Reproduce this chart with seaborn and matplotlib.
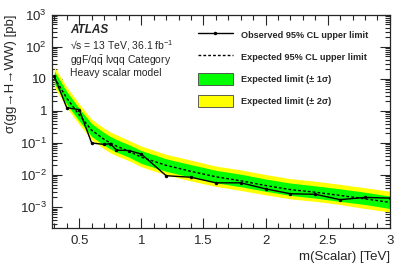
import pandas as pd
import seaborn as sns
import matplotlib.pyplot as plt
from matplotlib.patches import Patch
from matplotlib.lines import Line2D
from matplotlib.ticker import LogLocator, MultipleLocator, NullFormatter, FixedLocator

# Data
mass = [0.3, 0.4, 0.5, 0.6, 0.7, 0.75, 0.8, 0.9, 1.0, 1.2, 1.4, 1.6, 1.8, 2.0, 2.2, 2.4, 2.6, 2.8, 3.0]
observed = [12, 1.25, 1.1, 0.1, 0.09, 0.095, 0.06, 0.058, 0.045, 0.0095, 0.0085, 0.0057, 0.0057,
            0.0037, 0.0026, 0.0025, 0.0017, 0.002, 0.0019]
expected = [11, 2.5, 0.75, 0.25, 0.13, 0.10, 0.08, 0.055, 0.036, 0.02, 0.013, 0.0088, 0.0066,
            0.0047, 0.0035, 0.0029, 0.0023, 0.0018, 0.0014]
exp_p1 = [17.6, 4.0, 1.2, 0.4, 0.21, 0.16, 0.128, 0.088, 0.058, 0.032, 0.021, 0.014, 0.0106,
          0.0075, 0.0056, 0.0046, 0.0037, 0.0029, 0.0022]
exp_m1 = [7.2, 1.6, 0.49, 0.16, 0.085, 0.065, 0.052, 0.036, 0.023, 0.013, 0.0085, 0.0057, 0.0043,
          0.0031, 0.0023, 0.0019, 0.0015, 0.0012, 0.0009]
exp_p2 = [24, 5.5, 1.65, 0.55, 0.29, 0.22, 0.18, 0.12, 0.08, 0.044, 0.029, 0.019, 0.0145,
          0.0103, 0.0077, 0.0064, 0.0051, 0.004, 0.0031]
exp_m2 = [5.5, 1.25, 0.38, 0.125, 0.065, 0.05, 0.04, 0.028, 0.018, 0.01, 0.0065, 0.0044, 0.0033,
          0.0024, 0.0018, 0.0015, 0.0012, 0.0009, 0.0007]

df = pd.DataFrame({'mass': mass, 'observed': observed, 'expected': expected})

sns.set_style('ticks')
plt.rcParams['font.family'] = ['Liberation Sans', 'DejaVu Sans']
plt.rcParams['mathtext.fontset'] = 'custom'
plt.rcParams['mathtext.rm'] = 'Liberation Sans'
plt.rcParams['mathtext.it'] = 'Liberation Sans:italic'

fig, ax = plt.subplots(figsize=(3.99, 2.69), dpi=100)
fig.subplots_adjust(left=0.13, right=0.977, top=0.945, bottom=0.152)

# Expected bands
ax.fill_between(mass, exp_m2, exp_p2, color='#ffff00', lw=0)
ax.fill_between(mass, exp_m1, exp_p1, color='#00ff00', lw=0)

sns.lineplot(data=df, x='mass', y='expected', ax=ax, color='black', lw=1.0,
             linestyle=(0, (2, 1.5)))
sns.lineplot(data=df, x='mass', y='observed', ax=ax, color='black', lw=1.0,
             marker='o', markersize=2.5, markeredgewidth=0)

ax.set_yscale('log')
ax.set_xlim(0.28, 3.0)
ax.set_ylim(2.2e-4, 1e3)

ax.xaxis.set_major_locator(FixedLocator([0.5, 1, 1.5, 2, 2.5, 3]))
ax.xaxis.set_major_formatter(plt.FixedFormatter(['0.5', '1', '1.5', '2', '2.5', '3']))
ax.xaxis.set_minor_locator(MultipleLocator(0.1))
ax.yaxis.set_minor_locator(LogLocator(base=10, subs=range(2, 10), numticks=20))
ax.yaxis.set_minor_formatter(NullFormatter())
ax.set_yticks([1e-3, 1e-2, 1e-1, 1, 10, 100, 1000])
ax.set_yticklabels(['$10^{-3}$', '$10^{-2}$', '$10^{-1}$', '1', '10', '$10^{2}$', '$10^{3}$'])

ax.tick_params(which='both', direction='in', top=True, right=True, labelsize=9.5, width=0.8)
ax.tick_params(which='major', length=7)
ax.tick_params(which='minor', length=3.5)
ax.tick_params(axis='x', pad=5)
for s in ax.spines.values():
    s.set_linewidth(0.9)

ax.set_xlabel('m(Scalar) [TeV]', fontsize=9.5, loc='right', labelpad=3)
ax.set_ylabel('σ(gg→H→WW) [pb]', fontsize=9.5, loc='top', labelpad=2)

# Labels
ax.text(0.055, 0.955, 'ATLAS', transform=ax.transAxes, fontsize=8.5, fontweight='bold',
        fontstyle='italic', va='top')
ax.text(0.055, 0.89, '√s = 13 TeV, 36.1 fb$^{-1}$', transform=ax.transAxes,
        fontsize=7.5, va='top')
ax.text(0.055, 0.815, r'ggF/q$\bar{\mathrm{q}}$ lνqq Category', transform=ax.transAxes,
        fontsize=7.5, va='top')
ax.text(0.055, 0.75, 'Heavy scalar model', transform=ax.transAxes, fontsize=7.5, va='top')

handles = [
    Line2D([], [], color='black', lw=1.0, marker='o', markersize=2.5, markeredgewidth=0),
    Line2D([], [], color='black', lw=1.0, linestyle=(0, (2, 1.5))),
    Patch(facecolor='#00ff00', edgecolor='#444444', lw=0.6),
    Patch(facecolor='#ffff00', edgecolor='#444444', lw=0.6),
]
labels = ['Observed 95% CL upper limit', 'Expected 95% CL upper limit',
          'Expected limit (± 1σ)', 'Expected limit (± 2σ)']
leg = ax.legend(handles, labels, loc='upper right', bbox_to_anchor=(0.935, 0.935),
                frameon=False, fontsize=6.6, handlelength=3.9, handleheight=1.65,
                labelspacing=1.1, handletextpad=0.8, borderaxespad=0, borderpad=0)
for t in leg.get_texts():
    t.set_fontweight('bold')

fig.savefig('out.png', dpi=100)
